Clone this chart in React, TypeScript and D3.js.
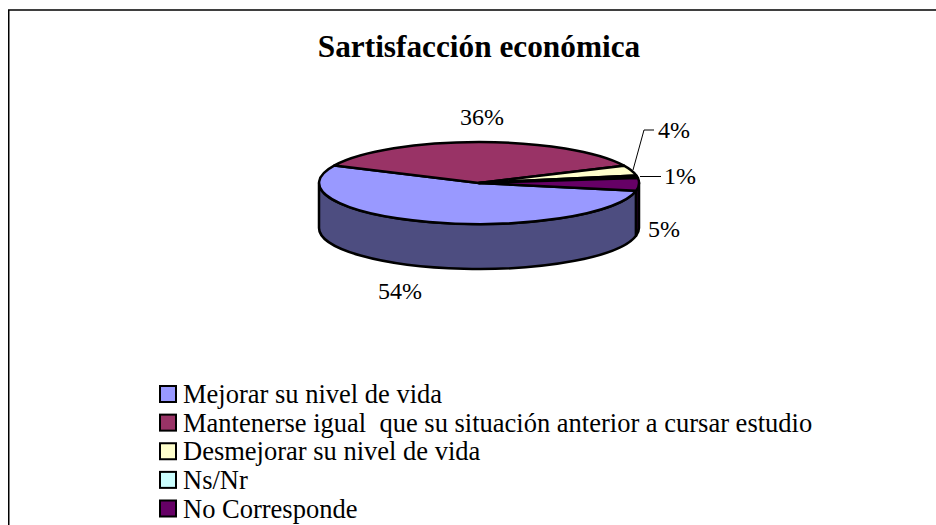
import React from "react";
import * as d3 from "d3";

const title = "Sartisfacción económica";
const categories = [
  "Mejorar su nivel de vida",
  "Mantenerse igual\u00a0 que su situación anterior a cursar estudio",
  "Desmejorar su nivel de vida",
  "Ns/Nr",
  "No Corresponde",
];
const values = [54, 36, 4, 1, 5];
const topColors = ["#9999ff", "#993366", "#ffffcc", "#ccffff", "#660066"];
const wallColors = ["#4d4d80", "#4d1a33", "#808066", "#668080", "#330033"];

const FONT = "'Liberation Serif', 'Times New Roman', serif";
const cx = 479, cy = 183, rx = 160, ry = 41, depth = 45;
const startDeg = 101; // d3 angle: 0 is 12 o'clock

const pie = d3.pie<number>().sort(null).value((d) => d)
  .startAngle((startDeg * Math.PI) / 180)
  .endAngle(((startDeg + 360) * Math.PI) / 180);
const arcs = pie(values);
const unitArc = d3.arc<d3.PieArcDatum<number>>().innerRadius(0).outerRadius(1);

const pt = (a: number, dy = 0): [number, number] => [
  cx + rx * Math.cos(a - Math.PI / 2),
  cy + ry * Math.sin(a - Math.PI / 2) + dy,
];

function wallPath(a0: number, a1: number): string | null {
  const lo = Math.PI / 2, hi = (3 * Math.PI) / 2;
  const ranges: [number, number][] = [[a0, a1], [a0 - 2 * Math.PI, a1 - 2 * Math.PI]];
  let out = "";
  for (const [s, e] of ranges) {
    const b0 = Math.max(s, lo), b1 = Math.min(e, hi);
    if (b1 <= b0) continue;
    const p0 = pt(b0), p1 = pt(b1), q1 = pt(b1, depth), q0 = pt(b0, depth);
    out += `M${p0}A${rx},${ry} 0 0 1 ${p1}L${q1}A${rx},${ry} 0 0 0 ${q0}Z`;
  }
  return out || null;
}

const labels = [
  { text: "54%", x: 400, y: 299 },
  { text: "36%", x: 482, y: 125 },
  { text: "4%", x: 674, y: 138 },
  { text: "1%", x: 680, y: 184 },
  { text: "5%", x: 664, y: 237 },
];
const leaders = ["M633,170L644,130L654,130", "M640,176.5L661,176.5"];

const legendY = d3.scalePoint<string>().domain(categories).range([394, 508.5]);

export default function App() {
  return (
    <svg width={936} height={525} style={{ position: "absolute", left: 0, top: 0 }}>
      <rect x={0} y={0} width={936} height={525} fill="#fff" />
      <path d="M8.75,525V10H936" fill="none" stroke="#000" strokeWidth={1.5} />
      <text x={479} y={57} textAnchor="middle" fontFamily={FONT} fontWeight="bold" fontSize={31.3}>
        {title}
      </text>
      {arcs.map((a, i) => {
        const d = wallPath(a.startAngle, a.endAngle);
        return d ? <path key={i} d={d} fill={wallColors[i]} stroke="#000" strokeWidth={2.5} strokeLinejoin="round" /> : null;
      })}
      {arcs.map((a, i) => (
        <path
          key={i}
          d={unitArc(a) as string}
          transform={`translate(${cx},${cy}) scale(${rx},${ry})`}
          vectorEffect="non-scaling-stroke"
          fill={topColors[i]}
          stroke="#000"
          strokeWidth={2.5}
          strokeLinejoin="round"
        />
      ))}
      {leaders.map((d, i) => (
        <path key={i} d={d} fill="none" stroke="#000" strokeWidth={1} />
      ))}
      {labels.map((l) => (
        <text key={l.text} x={l.x} y={l.y} textAnchor="middle" fontFamily={FONT} fontSize={24} fill="#000">
          {l.text}
        </text>
      ))}
      {categories.map((c, i) => {
        const y = legendY(c) as number;
        return (
          <g key={c}>
            <rect x={160} y={y - 8} width={16} height={16} fill={topColors[i]} stroke="#000" strokeWidth={2} />
            <text x={183} y={y + 9} fontFamily={FONT} fontSize={26.5} fill="#000">
              {c}
            </text>
          </g>
        );
      })}
    </svg>
  );
}
